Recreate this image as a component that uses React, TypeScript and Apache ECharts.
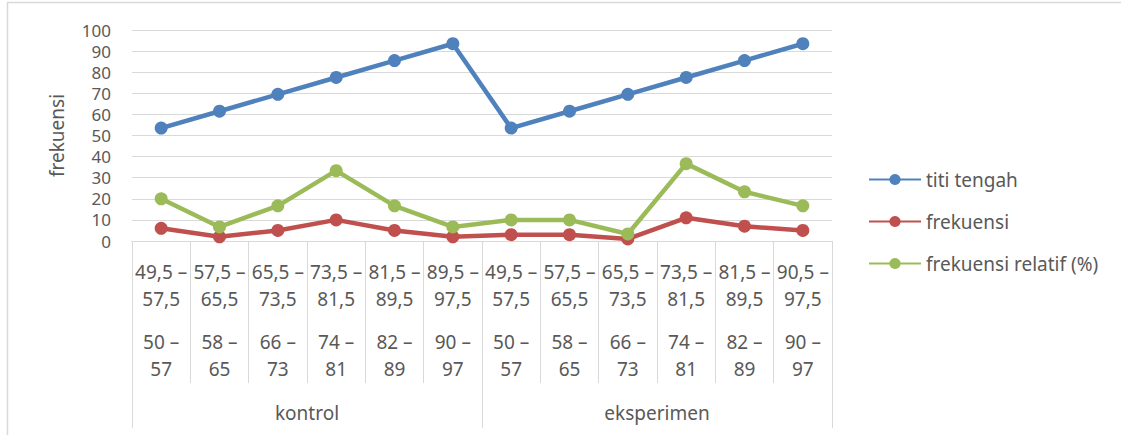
import React, { useEffect, useRef } from 'react';
import * as echarts from 'echarts';

const groups = ['kontrol', 'eksperimen'];
const kontrolBatasNyata = ['49,5 – 57,5', '57,5 – 65,5', '65,5 – 73,5', '73,5 – 81,5', '81,5 – 89,5', '89,5 – 97,5'];
const eksperimenBatasNyata = ['49,5 – 57,5', '57,5 – 65,5', '65,5 – 73,5', '73,5 – 81,5', '81,5 – 89,5', '90,5 – 97,5'];
const kelasInterval = ['50 – 57', '58 – 65', '66 – 73', '74 – 81', '82 – 89', '90 – 97'];

const titiTengah = [53.5, 61.5, 69.5, 77.5, 85.5, 93.5, 53.5, 61.5, 69.5, 77.5, 85.5, 93.5];
const frekuensi = [6, 2, 5, 10, 5, 2, 3, 3, 1, 11, 7, 5];
const frekuensiRelatif = [20, 6.67, 16.67, 33.33, 16.67, 6.67, 10, 10, 3.33, 36.67, 23.33, 16.67];

const yTicks = { min: 0, max: 100, interval: 10 };

const FONT = 'Noto Sans';
const TXT = '#595959';
const GRID = '#d9d9d9';

export default function App() {
  const ref = useRef<HTMLDivElement>(null);
  useEffect(() => {
    if (!ref.current) return;
    const chart = echarts.init(ref.current, null, { renderer: 'svg' });
    const batas = [...kontrolBatasNyata, ...eksperimenBatasNyata];
    const interval = [...kelasInterval, ...kelasInterval];
    const categories = batas.map((b, i) => {
      const [a1, a2] = b.split(' – ');
      const [c1, c2] = interval[i].split(' – ');
      return `{a|${a1} –}\n{a|${a2}}\n{g| }\n{a|${c1} –}\n{a|${c2}}`;
    });
    const mk = (name: string, data: number[], color: string) => ({
      name,
      type: 'line',
      data,
      symbol: 'circle',
      symbolSize: 13,
      itemStyle: { color },
      lineStyle: { color, width: 4.5 },
    });
    chart.setOption({
      animation: false,
      textStyle: { fontFamily: FONT },
      graphic: [
        {
          type: 'rect',
          shape: { x: 7.5, y: 2.5, width: 1200, height: 500 },
          style: { fill: 'none', stroke: GRID, lineWidth: 1.5 },
          silent: true,
        },
      ],
      grid: { left: 132, top: 30, right: 289, bottom: 194 },
      legend: {
        orient: 'vertical',
        left: 868,
        top: 170,
        padding: 0,
        itemWidth: 52,
        itemHeight: 14,
        itemGap: 23,
        textStyle: { color: TXT, fontSize: 19, fontFamily: FONT },
        data: ['titi tengah', 'frekuensi', 'frekuensi relatif (%)'],
      },
      xAxis: [
        {
          type: 'category',
          data: categories,
          boundaryGap: true,
          axisLine: { show: true, lineStyle: { color: GRID, width: 1 } },
          axisTick: { show: true, length: 142, interval: 0, lineStyle: { color: GRID, width: 1 } },
          axisLabel: {
            interval: 0,
            margin: 17,
            color: TXT,
            fontSize: 19,
            formatter: (v: string) => v,
            rich: {
              a: { fontSize: 19, lineHeight: 27, color: TXT, fontFamily: FONT },
              g: { fontSize: 10, lineHeight: 16 },
            },
          },
        },
        {
          type: 'category',
          data: groups,
          position: 'bottom',
          boundaryGap: true,
          axisLine: { show: true, lineStyle: { color: GRID, width: 1 } },
          axisTick: { show: true, length: 187, interval: 0, lineStyle: { color: GRID, width: 1 } },
          axisLabel: { interval: 0, margin: 162, color: TXT, fontSize: 19, lineHeight: 20 },
        },
      ],
      yAxis: {
        type: 'value',
        ...yTicks,
        name: 'frekuensi',
        nameLocation: 'middle',
        nameRotate: 90,
        nameGap: 66,
        nameTextStyle: { color: TXT, fontSize: 19, fontFamily: FONT },
        axisLine: { show: false },
        axisTick: { show: false },
        axisLabel: { color: TXT, fontSize: 17, lineHeight: 17, margin: 21 },
        splitLine: { lineStyle: { color: GRID, width: 1 } },
      },
      series: [
        mk('titi tengah', titiTengah, '#4f81bd'),
        mk('frekuensi', frekuensi, '#c0504d'),
        mk('frekuensi relatif (%)', frekuensiRelatif, '#9bbb59'),
      ],
    });
    return () => chart.dispose();
  }, []);
  return (
    <div
      ref={ref}
      style={{ position: 'fixed', left: 0, top: 0, width: 1121, height: 435, background: '#fff' }}
    />
  );
}
